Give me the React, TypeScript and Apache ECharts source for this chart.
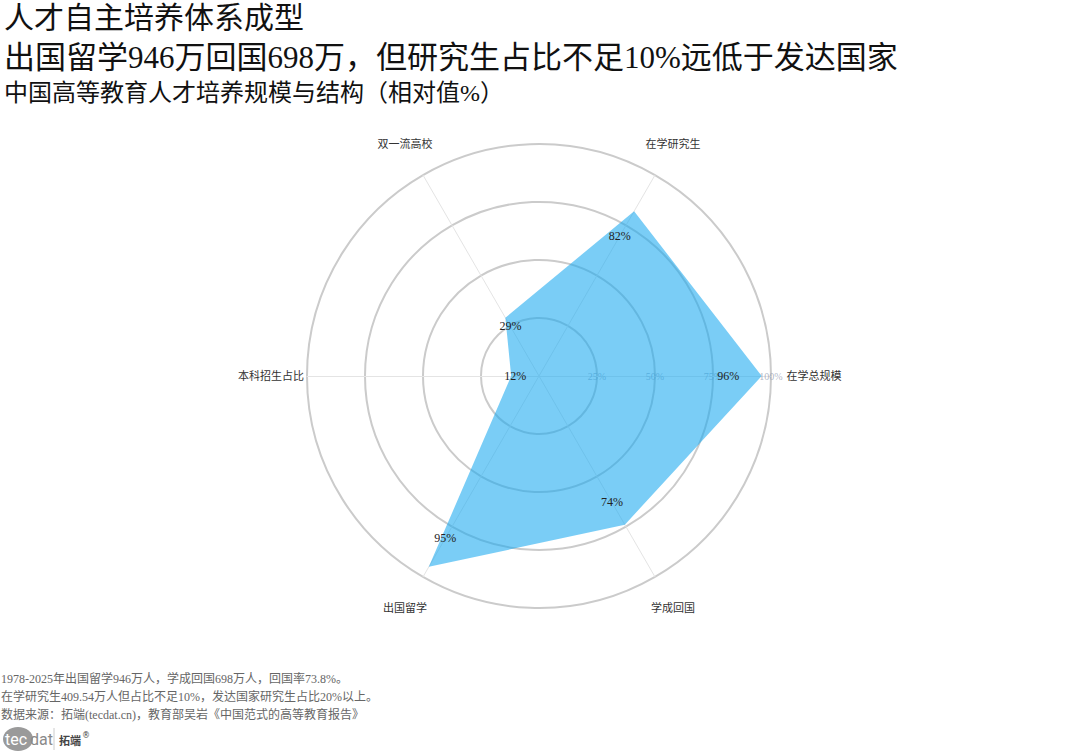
import React, { useEffect, useRef } from "react";
import * as echarts from "echarts";

const INDICATORS = ["在学总规模", "在学研究生", "双一流高校", "本科招生占比", "出国留学", "学成回国"];
const VALUES = [96, 82, 29, 12, 95, 74];
const AXIS_MAX = 100;

const TITLE_1 = "人才自主培养体系成型";
const TITLE_2 = "出国留学946万回国698万，但研究生占比不足10%远低于发达国家";
const SUBTITLE = "中国高等教育人才培养规模与结构（相对值%）";
const NOTES = [
  "1978-2025年出国留学946万人，学成回国698万人，回国率73.8%。",
  "在学研究生409.54万人但占比不足10%，发达国家研究生占比20%以上。",
  "数据来源：拓端(tecdat.cn)，教育部吴岩《中国范式的高等教育报告》",
];

const SERIF = "'Liberation Serif', 'DejaVu Serif', 'Noto Sans CJK SC', serif";
const CX = 539;
const CY = 376;
const R = 232;

export default function App() {
  const ref = useRef<HTMLDivElement>(null);
  useEffect(() => {
    if (!ref.current) return;
    const chart = echarts.init(ref.current, null, { renderer: "svg" });
    const option: any = {
      animation: false,
      backgroundColor: "#ffffff",
      radar: {
        center: [CX, CY],
        radius: R,
        startAngle: 0,
        splitNumber: 4,
        shape: "circle",
        indicator: INDICATORS.map((name, i) => ({
          name,
          min: 0,
          max: AXIS_MAX,
          axisLabel: { show: i === 0 },
        })),
        nameGap: 36,
        axisName: {
          color: "#333333",
          fontSize: 11,
          fontFamily: SERIF,
          align: "center",
          verticalAlign: "middle",
        },
        axisLine: { lineStyle: { color: "#e4e4e4", width: 1 } },
        splitLine: { lineStyle: { color: "#cbcbcb", width: 2 } },
        splitArea: { show: false },
        axisTick: { show: false },
        axisLabel: {
          show: false,
          showMinLabel: false,
          formatter: (v: number) => (v === 0 ? "" : v + "%"),
          color: "rgba(150,160,180,0.75)",
          fontSize: 10,
          fontFamily: SERIF,
          margin: 0,
          align: "center",
          verticalAlign: "middle",
        },
      },
      series: [
        {
          type: "radar",
          symbol: "circle",
          symbolSize: 1,
          itemStyle: { color: "rgba(0,0,0,0)" },
          lineStyle: { width: 0, color: "rgba(0,0,0,0)" },
          areaStyle: { color: "rgba(25,168,240,0.58)", opacity: 1 },
          label: {
            show: true,
            position: "inside",
            formatter: "{c}%",
            color: "#222222",
            fontSize: 12,
            fontFamily: SERIF,
          },
          labelLayout: (p: any) => {
            const vx = p.rect.x + p.rect.width / 2;
            const vy = p.rect.y + p.rect.height / 2;
            return {
              x: CX + 0.85 * (vx - CX),
              y: CY + 0.85 * (vy - CY),
              align: "center",
              verticalAlign: "middle",
            };
          },
          data: [{ value: VALUES, name: "相对值" }],
        },
      ],
      graphic: [
        {
          type: "text",
          left: 4,
          top: 2,
          style: { text: TITLE_1, fontSize: 30, fontFamily: SERIF, fill: "#111111" },
        },
        {
          type: "text",
          left: 4,
          top: 42,
          style: { text: TITLE_2, fontSize: 31, fontFamily: SERIF, fill: "#111111" },
        },
        {
          type: "text",
          left: 4,
          top: 81,
          style: { text: SUBTITLE, fontSize: 24, fontFamily: SERIF, fill: "#111111" },
        },
        ...NOTES.map((t, i) => ({
          type: "text",
          left: 1,
          top: 673 + i * 18,
          style: { text: t, fontSize: 12, fontFamily: SERIF, fill: "#666666" },
        })),
        {
          type: "ellipse",
          shape: { cx: 18, cy: 739, rx: 15, ry: 12 },
          style: { fill: "#9a9a9a" },
        },
        {
          type: "text",
          x: 5,
          y: 739,
          style: {
            text: "tec",
            fontSize: 16,
            fontFamily: "Roboto, sans-serif",
            fill: "#ffffff",
            verticalAlign: "middle",
          },
        },
        {
          type: "text",
          x: 30,
          y: 739,
          style: {
            text: "dat",
            fontSize: 16,
            fontFamily: "Roboto, sans-serif",
            fill: "#8a8a8a",
            verticalAlign: "middle",
          },
        },
        {
          type: "line",
          shape: { x1: 54, y1: 728, x2: 54, y2: 750 },
          style: { stroke: "#cccccc", lineWidth: 1 },
        },
        {
          type: "text",
          x: 59,
          y: 740,
          style: {
            text: "拓端",
            fontSize: 11,
            fontWeight: "bold",
            fontFamily: "'Noto Sans CJK SC', sans-serif",
            fill: "#444444",
            verticalAlign: "middle",
          },
        },
        {
          type: "text",
          x: 82,
          y: 735,
          style: {
            text: "®",
            fontSize: 8,
            fontFamily: "'DejaVu Sans', sans-serif",
            fill: "#444444",
            verticalAlign: "middle",
          },
        },
      ],
    };
    chart.setOption(option);
    return () => chart.dispose();
  }, []);
  return (
    <div
      ref={ref}
      style={{ position: "absolute", left: 0, top: 0, width: 1080, height: 756, background: "#fff" }}
    />
  );
}
